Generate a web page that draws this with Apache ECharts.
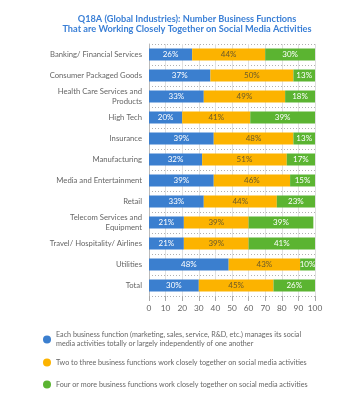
<!DOCTYPE html>
<html>
<head>
<meta charset="utf-8">
<script src="https://cdn.jsdelivr.net/npm/echarts@6/dist/echarts.min.js"></script>
<style>html,body{margin:0;padding:0;background:#fff}#c{width:360px;height:399px}</style>
</head>
<body>
<div id="c"></div>
<script>
const categories = ['Banking/ Financial Services','Consumer Packaged Goods','Health Care Services and\nProducts','High Tech','Insurance','Manufacturing','Media and Entertainment','Retail','Telecom Services and\nEquipment','Travel/ Hospitality/ Airlines','Utilities','Total'];
const independent = [26,37,33,20,39,32,39,33,21,21,48,30];
const twoToThree = [44,50,49,41,48,51,46,44,39,39,43,45];
const fourOrMore = [30,13,18,39,13,17,15,23,39,41,10,26];
const xTicks = [0,10,20,30,40,50,60,70,80,90,100];
const seriesNames = [
  'Each business function (marketing, sales, service, R&D, etc.) manages its social\nmedia activities totally or largely independently of one another',
  'Two to three business functions work closely together on social media activities',
  'Four or more business functions work closely together on social media activities'
];
const colors = ['#3b7fcf','#fcb300','#5bb431'];
const labelColors = ['#ffffff','#6b5a2a','#ffffff'];
const font = 'Lato, "Open Sans", sans-serif';

const chart = echarts.init(document.getElementById('c'));
const dataSets = [independent, twoToThree, fourOrMore];
chart.setOption({
  backgroundColor: '#fff',
  animation: false,
  title: {
    text: 'Q18A (Global Industries): Number Business Functions\nThat are Working Closely Together on Social Media Activities',
    left: 182, textAlign: 'center', top: 9,
    textStyle: {color: '#3a7fd6', fontSize: 9.2, fontWeight: 'bold', lineHeight: 10, fontFamily: font}
  },
  legend: seriesNames.map((n, i) => ({
    data: [n], orient: 'vertical', left: 43, top: [326, 358, 380][i],
    icon: 'circle', itemWidth: 8, itemHeight: 8, itemGap: 0, padding: 0,
    selectedMode: false,
    textStyle: i === 0
      ? {color: '#666', fontSize: 7.2, lineHeight: 9, fontFamily: font, padding: [9, 0, 0, 0]}
      : {color: '#666', fontSize: 7.2, lineHeight: 9, fontFamily: font}
  })),
  grid: {left: 149, right: 45, top: 44, bottom: 103},
  xAxis: {
    type: 'value', min: 0, max: 100, interval: 10,
    axisLine: {show: false},
    axisTick: {show: true, length: 5, lineStyle: {color: '#aaa'}},
    axisLabel: {color: '#666', fontSize: 8.3, margin: 8, fontFamily: font},
    splitLine: {show: true, lineStyle: {color: '#e0e0e0', width: 1}}
  },
  yAxis: {
    type: 'category', inverse: true, data: categories,
    axisLine: {show: true, lineStyle: {color: '#bbb'}},
    axisTick: {show: false},
    axisLabel: {color: '#666', fontSize: 7.7, lineHeight: 9.5, margin: 7, fontFamily: font, align: 'right'},
    splitLine: {show: true, lineStyle: {color: '#b0b0b0', type: [1, 2], width: 1}}
  },
  series: dataSets.map((d, i) => ({
    name: seriesNames[i], type: 'bar', stack: 'all', data: d, barWidth: 12,
    itemStyle: {color: colors[i]},
    label: {show: true, position: 'inside', color: labelColors[i], fontSize: 8, fontFamily: font, formatter: '{c}%'}
  }))
});
</script>
</body>
</html>
